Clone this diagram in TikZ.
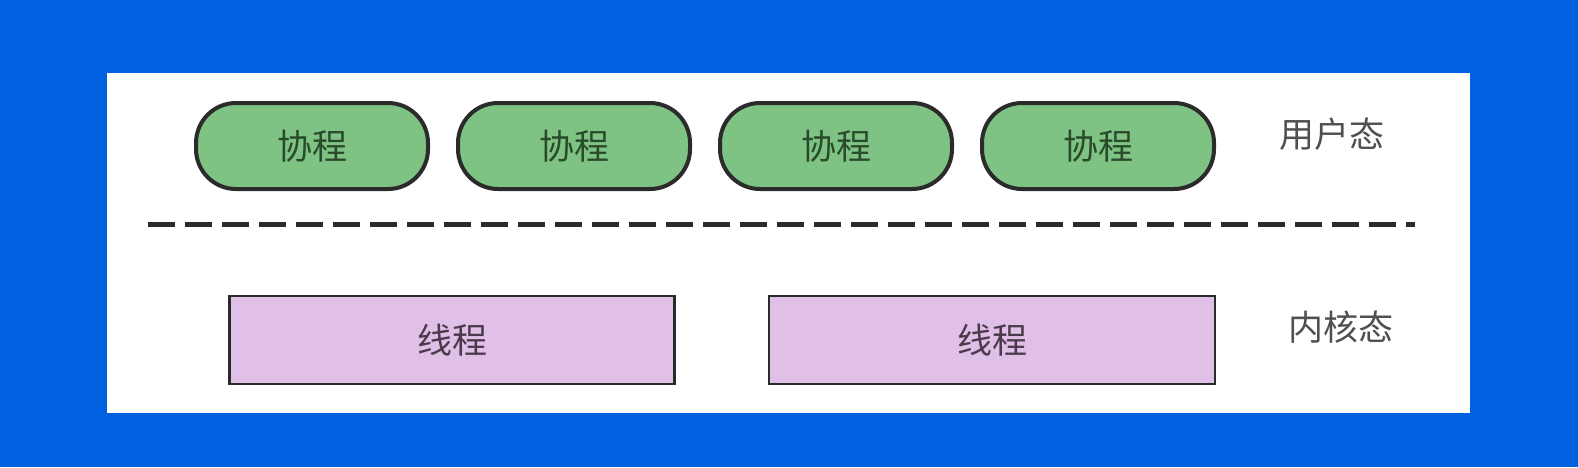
\documentclass[tikz,border=0pt]{standalone}
\usepackage{fontspec}
\setmainfont{Noto Sans CJK SC}
\usetikzlibrary{positioning}
\definecolor{screenblue}{HTML}{0062E1}
\definecolor{pillgreen}{HTML}{7EC383}
\definecolor{pilltext}{HTML}{2A4B2B}
\definecolor{boxpurple}{HTML}{E1C0E7}
\definecolor{boxtext}{HTML}{4A3A4B}
\definecolor{edgegray}{HTML}{2B2B2B}
\definecolor{labelgray}{HTML}{505050}

\begin{document}
\begin{tikzpicture}[
    x=1pt, y=-1pt,
    font=\fontsize{35}{40}\selectfont,
    coroutine/.style={draw=edgegray, fill=pillgreen, line width=4pt,
                      rounded corners=40pt, minimum width=232pt,
                      minimum height=86pt, text=pilltext, inner sep=0pt},
    thread/.style={draw=edgegray, fill=boxpurple, line width=2.4pt,
                   minimum width=445pt, minimum height=88pt,
                   text=boxtext, inner sep=0pt},
    modelabel/.style={text=labelgray, inner sep=0pt},
    divider/.style={draw=edgegray, line width=5pt,
                    dash pattern=on 27pt off 10pt}
]
  % Screen and slide
  \fill[screenblue] (0,0) rectangle (1578,467);
  \fill[white] (107,73) rectangle (1470,413);

  % User mode: coroutines
  \node[coroutine] (co1) at (312,146) {协程};
  \node[coroutine, right=26pt of co1] (co2) {协程};
  \node[coroutine, right=26pt of co2] (co3) {协程};
  \node[coroutine, right=26pt of co3] (co4) {协程};
  \node[modelabel] (user) at (1332,134) {用户态};

  % Boundary
  \coordinate (divl) at (148,224);
  \coordinate (divr) at (1415,224);
  \draw[divider] (divl) -- (divr);

  % Kernel mode: threads
  \node[thread] (th1) at (452,340) {线程};
  \node[thread, minimum width=446pt] (th2) at (992,340) {线程};
  \node[modelabel] (kernel) at (1341,327) {内核态};
\end{tikzpicture}
\end{document}
